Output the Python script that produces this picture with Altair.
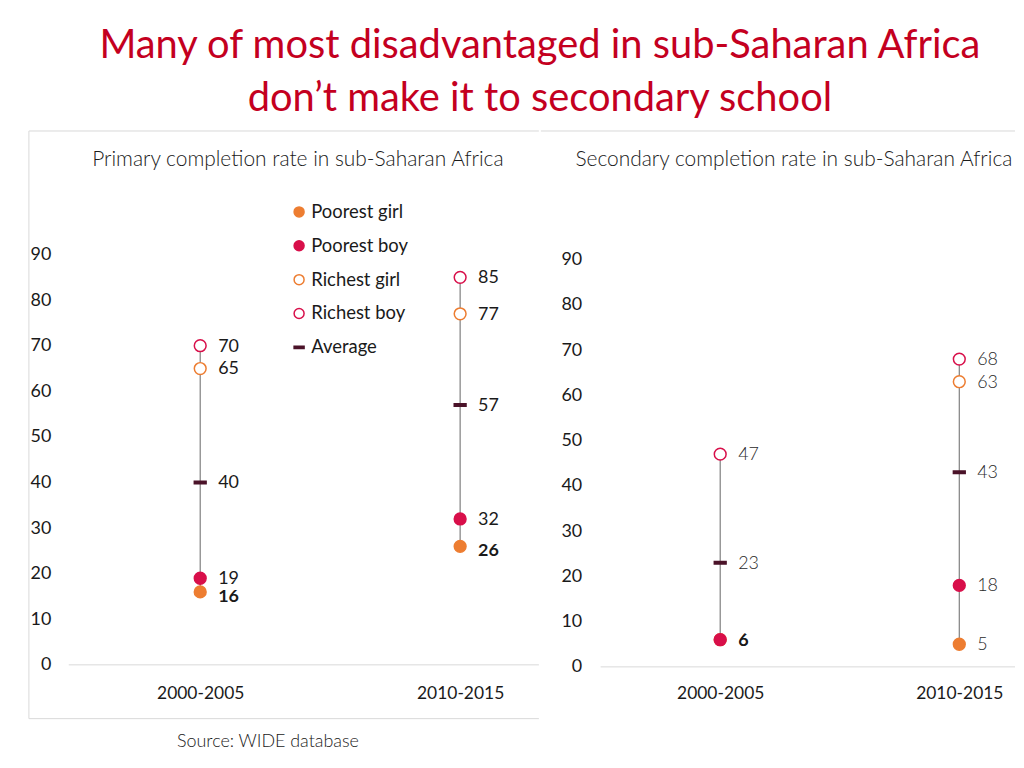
import altair as alt
import pandas as pd

# ---------------- data ----------------
periods = ["2000-2005", "2010-2015"]
series = ["Poorest girl", "Poorest boy", "Richest girl", "Richest boy", "Average"]

primary_poorest_girl = [16, 26]
primary_poorest_boy = [19, 32]
primary_richest_girl = [65, 77]
primary_richest_boy = [70, 85]
primary_average = [40, 57]

secondary_poorest_girl = [6, 5]
secondary_poorest_boy = [6, 18]
secondary_richest_girl = [None, 63]
secondary_richest_boy = [47, 68]
secondary_average = [23, 43]

y_ticks = [0, 10, 20, 30, 40, 50, 60, 70, 80, 90]

title_lines = ["Many of most disadvantaged in sub-Saharan Africa",
               "don\u2019t make it to secondary school"]
primary_title = "Primary completion rate in sub-Saharan Africa"
secondary_title = "Secondary completion rate in sub-Saharan Africa"
source_text = "Source: WIDE database"

# ---------------- styles ----------------
FONT = "Lato"
ORANGE = "#ED7D31"
CRIMSON = "#D80F4A"
MAROON = "#4B1329"
fills = [ORANGE, CRIMSON, "white", "white", MAROON]
strokes = [ORANGE, CRIMSON, ORANGE, CRIMSON, MAROON]
shapes = ["circle", "circle", "circle", "circle", "M-1,-0.22H1V0.22H-1Z"]


def build(vals, bold_series):
    rows = []
    order = ["Average", "Poorest girl", "Poorest boy", "Richest girl", "Richest boy"]
    for s in order:
        for i, p in enumerate(periods):
            v = vals[s][i]
            if v is None:
                continue
            rows.append({"period": p, "xi": i, "series": s, "value": v,
                         "bold": (s, i) in bold_series})
    return pd.DataFrame(rows)


prim = build({"Poorest girl": primary_poorest_girl, "Poorest boy": primary_poorest_boy,
              "Richest girl": primary_richest_girl, "Richest boy": primary_richest_boy,
              "Average": primary_average},
             {("Poorest girl", 0), ("Poorest girl", 1)})
sec = build({"Poorest girl": secondary_poorest_girl, "Poorest boy": secondary_poorest_boy,
             "Richest girl": secondary_richest_girl, "Richest boy": secondary_richest_boy,
             "Average": secondary_average},
            {("Poorest girl", 0)})

label_expr = "[" + ",".join("'%s'" % p for p in periods) + "][datum.value]"


def panel(df, W, H, xdom, ydom, yoff, label_color, label_weight, legend, subtitle,
          sub_x, grid_x0, box, bold_dy, extra_text=None):
    base = alt.Chart(df)
    xs = alt.Scale(domain=xdom, nice=False, zero=False)
    ys = alt.Scale(domain=ydom, nice=False, zero=False)
    x_enc = alt.X("xi:Q", scale=xs,
                  axis=alt.Axis(values=[0, 1], labelExpr=label_expr, grid=False, domain=False,
                                ticks=False, title=None, orient="bottom", offset=-34,
                                labelPadding=0, labelFontSize=17.5, labelFont=FONT,
                                labelColor="#1a1a1a"))
    y_enc = alt.Y("min(value):Q", scale=ys,
                  axis=alt.Axis(values=y_ticks, grid=False, domain=False, ticks=False,
                                title=None, offset=yoff, labelPadding=0, labelFontSize=18,
                                labelFont=FONT, labelColor="#1a1a1a"))

    rules = base.mark_rule(color="#7f7f7f", strokeWidth=1.2).encode(
        x=x_enc, y=y_enc, y2="max(value):Q")

    if legend:
        leg = alt.Legend(title=None, orient="none", legendX=262, legendY=72, padding=0,
                         labelFontSize=18.5, labelFont=FONT, labelColor="#1a1a1a",
                         symbolSize=100, symbolStrokeWidth=1.5, rowPadding=15,
                         labelOffset=3)
        shp = alt.Shape("series:N", scale=alt.Scale(domain=series, range=shapes), legend=leg)
        fil = alt.Fill("series:N", scale=alt.Scale(domain=series, range=fills), legend=leg)
        stk = alt.Stroke("series:N", scale=alt.Scale(domain=series, range=strokes), legend=leg)
    else:
        shp = alt.Shape("series:N", scale=alt.Scale(domain=series, range=shapes), legend=None)
        fil = alt.Fill("series:N", scale=alt.Scale(domain=series, range=fills), legend=None)
        stk = alt.Stroke("series:N", scale=alt.Scale(domain=series, range=strokes), legend=None)

    pts = base.mark_point(size=140, strokeWidth=1.5, opacity=1, filled=False).encode(
        x=alt.X("xi:Q"), y=alt.Y("value:Q"), shape=shp, fill=fil, stroke=stk)

    txt_norm = base.transform_filter("!datum.bold").mark_text(
        align="left", baseline="middle", dx=18, dy=1, fontSize=18, font=FONT,
        color=label_color, fontWeight=label_weight).encode(
        x=alt.X("xi:Q"), y=alt.Y("value:Q"), text="value:Q")
    txt_bold = base.transform_filter("datum.bold").mark_text(
        align="left", baseline="middle", dx=18, dy=bold_dy, fontSize=18, font=FONT,
        color="#1a1a1a", fontWeight="bold").encode(
        x=alt.X("xi:Q"), y=alt.Y("value:Q"), text="value:Q")

    one = alt.Chart(pd.DataFrame({"t": [subtitle]}))
    sub = one.mark_text(align="center", baseline="middle", fontSize=21, font=FONT,
                        fontWeight=300, color="#1a1a1a").encode(
        text="t:N", x=alt.value(sub_x), y=alt.value(29))

    grid = alt.Chart(pd.DataFrame({"z": [0]})).mark_rule(color="#d9d9d9", strokeWidth=1).encode(
        x=alt.value(grid_x0), x2=alt.value(W), y=alt.Y("z:Q"))

    layers = [rules, grid, pts, txt_norm, txt_bold, sub]

    edge = "#d9d9d9"
    layers.append(one.mark_rule(color=edge).encode(x=alt.value(0), x2=alt.value(W), y=alt.value(0)))
    if box:
        layers.append(one.mark_rule(color=edge).encode(x=alt.value(0), y=alt.value(0), y2=alt.value(H)))
        layers.append(one.mark_rule(color=edge).encode(x=alt.value(0), x2=alt.value(W), y=alt.value(H)))
    if extra_text:
        layers.append(alt.Chart(pd.DataFrame({"t": [extra_text]})).mark_text(
            align="center", baseline="middle", fontSize=18, font=FONT, fontWeight=300,
            color="#1a1a1a").encode(text="t:N", x=alt.value(240), y=alt.value(613)))

    return alt.layer(*layers).properties(width=W, height=H)


left = panel(prim, 512, 590, [-0.659, 1.303], [-11.8, 117.1], -22, "#1a1a1a", "normal", True,
             primary_title, 270, 40, True, 5, extra_text=source_text)
right = panel(sec, 476, 590, [-0.75, 1.233], [-11.44, 118.4], -41, "#2a2a2a", 300, False,
              secondary_title, 254, 60, False, 1)

chart = alt.hconcat(left, right, spacing=0).resolve_scale(
    x="independent", y="independent", shape="independent", fill="independent",
    stroke="independent").properties(
    title=alt.Title(title_lines, fontSize=40, font=FONT, color="#C4001F", fontWeight="normal",
                    anchor="middle", lineHeight=53, offset=12, dx=18),
    padding={"left": 20, "top": 16, "right": 0, "bottom": 0},
).configure_view(stroke=None)

chart.save("out.html", embed_options={"renderer": "svg", "actions": False})
